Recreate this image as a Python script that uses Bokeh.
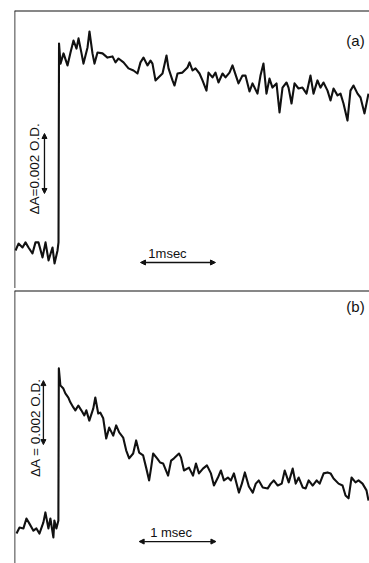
from bokeh.plotting import figure
from bokeh.models import Span, Label, Arrow, NormalHead, Range1d
from bokeh.layouts import column
from bokeh.embed import file_html
from bokeh.resources import INLINE
import math

# ---- panel (a): time in ms after the flash, absorbance change in 1e-3 O.D.
t_a = [-0.573, -0.533, -0.480, -0.440, -0.400, -0.347, -0.307, -0.267, -0.213, -0.173,
       -0.133, -0.080, -0.053, -0.013, 0.000,
       0.007, 0.027, 0.067, 0.120, 0.160, 0.200, 0.240, 0.267, 0.307, 0.333, 0.387,
       0.413, 0.453, 0.480, 0.520, 0.587, 0.653, 0.720, 0.760, 0.800, 0.867, 0.933,
       1.000, 1.053, 1.093, 1.133, 1.187, 1.227, 1.253, 1.293, 1.333, 1.387, 1.440,
       1.467, 1.520, 1.547, 1.587, 1.653, 1.720, 1.747, 1.787, 1.827, 1.880, 1.920,
       1.973, 2.000, 2.053, 2.093, 2.133, 2.187, 2.227, 2.280, 2.320, 2.373, 2.400,
       2.453, 2.493, 2.547,
       2.587, 2.653, 2.693, 2.733, 2.773, 2.813, 2.853, 2.907, 2.947, 2.987, 3.040,
       3.067, 3.107, 3.147, 3.200, 3.253, 3.307, 3.360, 3.400, 3.453, 3.493, 3.533,
       3.587, 3.627, 3.667, 3.720, 3.760, 3.800, 3.853, 3.893, 3.933, 3.987, 4.027,
       4.080, 4.133]
dA_a = [0.00, 0.23, 0.10, 0.27, 0.10, -0.10, 0.27, 0.27, -0.23, 0.27,
        -0.33, 0.10, -0.43, 0.00, 0.27,
        6.90, 6.23, 6.57, 6.17, 6.60, 7.00, 6.73, 7.07, 6.57, 6.23, 6.77,
        7.30, 6.57, 6.23, 6.60, 6.57, 6.43, 6.47, 6.27, 6.40, 6.27, 6.07,
        6.00, 5.90, 6.27, 6.43, 6.17, 6.33, 6.23, 5.67, 5.77, 5.90, 6.50,
        6.07, 5.67, 5.50, 5.90, 5.93, 6.10, 6.27, 6.00, 6.07, 5.90, 5.67,
        5.33, 5.93, 5.77, 5.93, 5.60, 5.90, 5.77, 5.93, 6.17, 5.77, 5.57,
        5.83, 5.83, 5.30,
        5.57, 5.23, 5.83, 6.23, 5.23, 5.73, 5.43, 5.57, 4.60, 5.43, 5.60,
        5.43, 4.90, 5.57, 5.40, 5.43, 5.23, 5.83, 5.23, 5.67, 5.43, 5.60,
        5.33, 5.00, 5.40, 5.17, 5.23, 4.90, 4.33, 5.33, 5.50, 5.23, 5.10,
        4.57, 5.23]

# ---- panel (b)
t_b = [-0.545, -0.506, -0.455, -0.416, -0.377, -0.325, -0.286, -0.247, -0.195, -0.169,
       -0.130, -0.104, -0.065, -0.052, -0.026, 0.000,
       0.006, 0.026, 0.065, 0.091, 0.130, 0.156, 0.195, 0.221, 0.260, 0.299, 0.338,
       0.364, 0.403, 0.455, 0.481, 0.519, 0.545, 0.584, 0.623, 0.662, 0.714, 0.753,
       0.792, 0.844, 0.883, 0.922,
       0.974, 1.013, 1.052, 1.104, 1.143, 1.182, 1.208, 1.234, 1.286, 1.325, 1.364,
       1.429, 1.468, 1.506, 1.571, 1.597, 1.636, 1.701, 1.753, 1.792, 1.831, 1.883,
       1.935, 1.987, 2.026, 2.078, 2.117, 2.156, 2.208, 2.247, 2.286, 2.351, 2.390,
       2.429, 2.481,
       2.532, 2.571, 2.610, 2.662, 2.727, 2.766, 2.805, 2.857, 2.909, 2.948, 3.000,
       3.052, 3.091, 3.130, 3.182, 3.221, 3.260, 3.312, 3.364, 3.403, 3.455, 3.506,
       3.545, 3.584, 3.649, 3.701, 3.740, 3.779, 3.818, 3.870, 3.909, 3.961, 4.013,
       4.039]
dA_b = [-0.22, -0.03, -0.06, 0.25, 0.09, -0.13, -0.06, -0.22, 0.13, 0.44,
        -0.06, 0.25, -0.34, 0.19, -0.06, 0.19,
        4.94, 4.41, 4.31, 4.16, 4.03, 3.88, 3.72, 3.63, 3.78, 3.63, 3.47,
        3.63, 3.31, 3.69, 4.03, 3.53, 3.56, 3.38, 2.75, 3.09, 2.84, 3.16,
        2.94, 2.78, 2.38, 2.13,
        2.28, 2.69, 2.31, 2.22, 1.84, 1.44, 1.84, 2.28, 2.13, 2.00, 1.97,
        1.59, 2.06, 2.13, 2.28, 2.16, 1.75, 1.84, 1.59, 1.97, 1.66, 1.81,
        1.91, 1.66, 1.28, 1.53, 1.75, 1.44, 1.53, 1.44, 1.66, 1.06, 1.34,
        1.69, 1.25,
        1.06, 1.34, 1.44, 1.22, 1.19, 1.34, 1.44, 1.28, 1.34, 1.75, 1.38,
        1.81, 1.34, 1.53, 1.22, 1.19, 1.44, 1.28, 1.44, 1.34, 1.66, 1.69,
        1.66, 1.50, 1.34, 1.28, 0.97, 0.88, 1.53, 1.38, 1.44, 1.34, 1.13,
        0.81]

labels = ["(a)", "(b)"]
scale_text = ["\u0394A=0.002 O.D.", "\u0394A = 0.002 O.D."]
time_text = ["1msec", "1 msec"]
SCALE_OD = 2.0      # 0.002 O.D. in units of 1e-3
SCALE_MS = 1.0

FONT = "Liberation Sans"
INK = "#111111"


def panel(t, dA, xr, yr, w, h, left, top, label, lab_pos, sbar, stext_pos, stext,
          tbar, ttext_pos, ttext):
    p = figure(width=w, height=h, output_backend="svg", toolbar_location=None,
               x_axis_location=None, y_axis_location=None,
               x_range=Range1d(*xr), y_range=Range1d(*yr))
    p.min_border_left = left
    p.min_border_top = top
    p.min_border_right = 0
    p.min_border_bottom = 0
    p.outline_line_color = None
    p.grid.visible = False
    p.background_fill_color = "white"
    p.border_fill_color = "white"
    # frame lines
    p.add_layout(Span(location=xr[0], dimension="height", line_color=INK, line_width=1.6))
    p.add_layout(Span(location=yr[1], dimension="width", line_color=INK, line_width=2.2))
    # trace
    p.line(t, dA, line_color=INK, line_width=2.1, line_join="round")
    # label
    p.add_layout(Label(x=lab_pos[0], y=lab_pos[1], text=label, text_font=FONT,
                       text_font_size="15px", text_color=INK,
                       text_align="center", text_baseline="middle"))
    # vertical scale bar
    x0, y0 = sbar
    p.add_layout(Arrow(x_start=x0, y_start=y0, x_end=x0, y_end=y0 + SCALE_OD,
                       line_color=INK, line_width=1.3,
                       start=NormalHead(size=5, fill_color=INK, line_color=INK),
                       end=NormalHead(size=5, fill_color=INK, line_color=INK)))
    p.add_layout(Label(x=stext_pos[0], y=stext_pos[1], text=stext, text_font=FONT,
                       text_font_size="13.5px", text_color=INK, angle=math.pi / 2,
                       text_align="center", text_baseline="middle"))
    # time scale bar
    tx, ty = tbar
    p.add_layout(Arrow(x_start=tx, y_start=ty, x_end=tx + SCALE_MS, y_end=ty,
                       line_color=INK, line_width=1.3,
                       start=NormalHead(size=5, fill_color=INK, line_color=INK),
                       end=NormalHead(size=5, fill_color=INK, line_color=INK)))
    p.add_layout(Label(x=ttext_pos[0], y=ttext_pos[1], text=ttext, text_font=FONT,
                       text_font_size="13px", text_color=INK,
                       text_align="center", text_baseline="middle"))
    return p


pa = panel(t_a, dA_a, (-0.5867, 4.1467), (-1.267, 8.0), 369, 288, 14, 10,
           labels[0], (3.96, 7.0), (-0.187, 1.9), (-0.32, 2.72), scale_text[0],
           (1.093, -0.4), (1.453, -0.1), time_text[0])
pb = panel(t_b, dA_b, (-0.5714, 4.052), (-1.156, 7.375), 369, 275, 13, 2,
           labels[1], (3.87, 6.875), (-0.195, 2.56), (-0.30, 3.09), scale_text[1],
           (1.052, -0.47), (1.468, -0.19), time_text[1])

layout = column(pa, pb, spacing=0)
open("out.html", "w").write(file_html(layout, INLINE))
